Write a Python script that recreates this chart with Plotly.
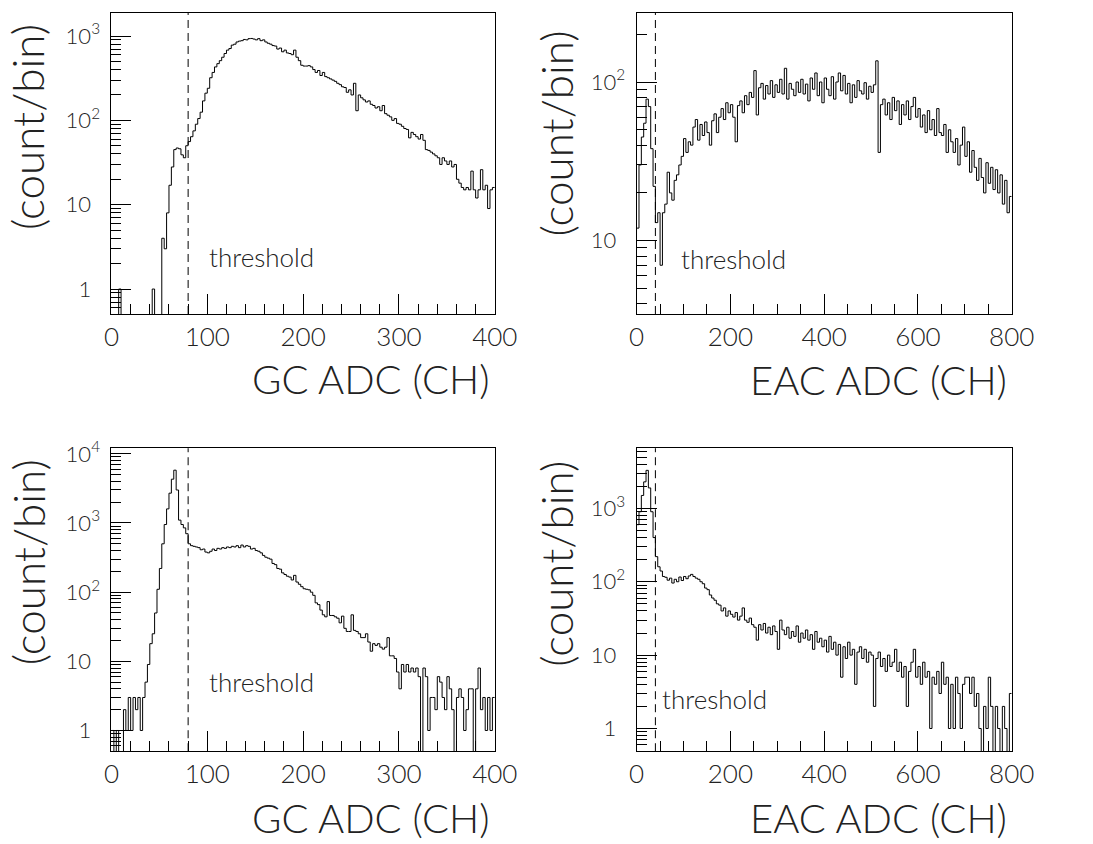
import numpy as np
import plotly.graph_objects as go

# ---------------- data (counts per bin) ----------------
GC_BIN = 2.5      # ADC channels per bin, GC panels (0..400)
EAC_BIN = 5.0     # ADC channels per bin, EAC panels (0..800)
GC_THRESHOLD = 80
EAC_THRESHOLD = 40

gc_top = [
    0, 0, 0, 1, 0, 0, 0, 0, 0, 0,
    0, 0, 0, 0, 0, 0, 0, 1, 0, 0,
    0, 4, 3, 8, 17, 28, 45, 47, 46, 39,
    36, 50, 56, 64, 75, 90, 105, 125, 170, 210,
    240, 320, 370, 430, 470, 510, 560, 620, 680, 710,
    780, 800, 850, 870, 880, 910, 900, 930, 935, 920,
    900, 930, 880, 900, 850, 820, 800, 770, 760, 700,
    720, 650, 680, 630, 620, 600, 680, 560, 510, 450,
    440, 440, 445, 430, 400, 370, 390, 340, 370, 330,
    320, 310, 300, 290, 275, 265, 250, 245, 215, 230,
    200, 275, 130, 200, 185, 175, 165, 170, 155, 150,
    140, 145, 130, 150, 120, 115, 110, 100, 105, 92,
    90, 85, 80, 78, 62, 72, 68, 64, 60, 68,
    58, 45, 44, 42, 40, 38, 36, 30, 36, 33,
    30, 33, 28, 30, 20, 18, 16, 15, 16, 15,
    25, 15, 12, 15, 26, 15, 17, 9, 15, 16,
]

eac_top = [
    12, 30, 45, 55, 78, 70, 38, 22, 13, 15,
    7, 15, 17, 27, 20, 18, 24, 26, 30, 34,
    44, 36, 42, 40, 52, 58, 43, 54, 46, 56,
    48, 40, 57, 63, 48, 60, 68, 58, 74, 64,
    72, 60, 42, 71, 76, 64, 82, 72, 86, 80,
    118, 62, 92, 98, 78, 95, 84, 102, 80, 96,
    86, 104, 84, 122, 78, 98, 90, 82, 100, 86,
    104, 84, 97, 76, 106, 90, 114, 82, 100, 74,
    106, 90, 82, 108, 78, 100, 114, 88, 110, 84,
    98, 74, 96, 80, 102, 88, 84, 99, 78, 94,
    86, 96, 136, 36, 72, 78, 62, 74, 58, 80,
    66, 76, 54, 72, 62, 76, 58, 70, 80, 60,
    68, 52, 62, 48, 66, 50, 58, 46, 68, 48,
    46, 54, 36, 50, 42, 36, 44, 30, 40, 52,
    34, 42, 27, 37, 29, 24, 33, 25, 20, 31,
    23, 29, 21, 28, 20, 26, 17, 24, 15, 19,
]

gc_bottom = [
    1, 0, 1, 0, 0, 2, 1, 3, 1, 3,
    2, 3, 1, 3, 5, 9, 18, 25, 50, 110,
    220, 500, 950, 1600, 2700, 4300, 5800, 3000, 1100, 950,
    850, 700, 500, 470, 460, 450, 440, 410, 420, 380,
    370, 390, 420, 400, 430, 420, 440, 430, 450, 440,
    460, 450, 470, 440, 480, 450, 470, 460, 420, 430,
    400, 390, 370, 340, 320, 310, 300, 260, 250, 220,
    215, 190, 180, 170, 165, 150, 175, 140, 130, 120,
    112, 110, 108, 100, 90, 70, 66, 55, 47, 44,
    73, 46, 46, 44, 42, 36, 45, 30, 27, 27,
    47, 28, 27, 25, 22, 22, 25, 19, 14, 18,
    17, 18, 16, 15, 16, 22, 12, 12, 11, 7,
    4, 9, 7, 9, 7, 8, 7, 8, 6, 0,
    8, 6, 1, 3, 3, 2, 6, 5, 3, 2,
    6, 4, 2, 0, 3, 4, 3, 1, 2, 4,
    4, 0, 4, 8, 2, 3, 1, 3, 1, 3,
]

eac_bottom = [
    600, 900, 1500, 2300, 3300, 1900, 900, 400, 220, 160,
    140, 118, 115, 105, 112, 96, 108, 100, 116, 104,
    118, 110, 120, 126, 118, 112, 108, 100, 94, 82,
    78, 66, 60, 56, 50, 48, 40, 44, 34, 40,
    36, 33, 38, 30, 34, 44, 30, 28, 32, 26,
    24, 16, 26, 22, 27, 20, 24, 19, 25, 21,
    12, 30, 22, 19, 24, 17, 21, 18, 25, 15,
    20, 17, 22, 16, 19, 12, 21, 15, 17, 13,
    16, 11, 18, 12, 15, 10, 14, 5, 13, 9,
    15, 10, 12, 4, 11, 13, 9, 12, 8, 11,
    10, 2, 9, 11, 7, 9, 6, 10, 7, 8,
    12, 6, 8, 5, 7, 2, 6, 8, 12, 5,
    7, 4, 8, 5, 6, 1, 5, 4, 6, 3,
    8, 4, 5, 1, 4, 1, 5, 3, 1, 4,
    5, 5, 3, 5, 2, 3, 1, 0, 2, 1,
    5, 2, 0, 2, 1, 0, 2, 1, 0, 3,
]

x_title_gc = "GC ADC (CH)"
x_title_eac = "EAC ADC (CH)"
y_title = "(count/bin)"
threshold_text = "threshold"
y_tick_text = {1: "1<sup>\u2007</sup>", 10: "10<sup>\u2007</sup>", 100: "10<sup>2</sup>",
               1000: "10<sup>3</sup>", 10000: "10<sup>4</sup>"}

# ---------------- layout helpers ----------------
W, H = 1093, 844
FONT = "Lato, Roboto, 'DejaVu Sans', sans-serif"
TXT = "#222222"
WEIGHT = 300


def px_x(p):
    return p / W


def px_y(p):
    return 1 - p / H


def step_xy(counts, width):
    edges = width * np.arange(len(counts) + 1)
    y = np.asarray(counts, dtype=float)
    y = np.where(y > 0, y, 1e-3)          # empty bins drop below the frame
    return edges, np.append(y, y[-1])


def minor_log(lo, hi):
    vals = [m * 10.0 ** e for e in range(-1, 5) for m in range(2, 10)]
    vals += [m / 10 for m in range(5, 10)]
    return sorted(v for v in vals if lo <= np.log10(v) <= hi)


panels = [
    dict(counts=gc_top, width=GC_BIN, xr=400, xmaj=100, xmin=20, thr=GC_THRESHOLD,
         xdom=(106.5, 501), ydom=(2, 307), yr=(-0.296, 3.273), xt=x_title_gc,
         xt_pos=(498, 373), yt_pos=(20, 117), thr_pos=(205, 249)),
    dict(counts=eac_top, width=EAC_BIN, xr=800, xmaj=200, xmin=50, thr=EAC_THRESHOLD,
         xdom=(647, 1033), ydom=(2, 307), yr=(0.538, 2.435), xt=x_title_eac,
         xt_pos=(1030, 374), yt_pos=(564, 124), thr_pos=(691, 251)),
    dict(counts=gc_bottom, width=GC_BIN, xr=400, xmaj=100, xmin=20, thr=GC_THRESHOLD,
         xdom=(106.5, 501), ydom=(443, 750), yr=(-0.30, 4.081), xt=x_title_gc,
         xt_pos=(498, 818), yt_pos=(20, 558), thr_pos=(205, 680)),
    dict(counts=eac_bottom, width=EAC_BIN, xr=800, xmaj=200, xmin=50, thr=EAC_THRESHOLD,
         xdom=(647, 1033), ydom=(443, 750), yr=(-0.31, 3.82), xt=x_title_eac,
         xt_pos=(1030, 818), yt_pos=(564, 560), thr_pos=(671, 697)),
]

fig = go.Figure()
annotations = []
shapes = []
layout = {}

for i, p in enumerate(panels, start=1):
    sfx = "" if i == 1 else str(i)
    xs, ys = step_xy(p["counts"], p["width"])
    fig.add_trace(go.Scatter(x=xs, y=ys, mode="lines", xaxis="x" + sfx, yaxis="y" + sfx,
                             line=dict(shape="hv", color="black", width=1),
                             hoverinfo="skip", showlegend=False))

    lo, hi = p["yr"]
    majors = [v for v in (1, 10, 100, 1000, 10000) if lo <= np.log10(v) <= hi]
    layout["xaxis" + sfx] = dict(
        domain=[px_x(p["xdom"][0]), px_x(p["xdom"][1])], anchor="y" + sfx,
        range=[0, p["xr"]], tickmode="linear", tick0=0, dtick=p["xmaj"],
        ticks="inside", ticklen=20, tickwidth=1, tickcolor="black",
        minor=dict(dtick=p["xmin"], tick0=0, ticks="inside", ticklen=10,
                   tickwidth=1, tickcolor="black", showgrid=False),
        showline=True, linecolor="black", linewidth=1, mirror=True,
        showgrid=False, zeroline=False, ticklabelstandoff=0,
        tickfont=dict(family=FONT, size=26, color=TXT, weight=WEIGHT),
    )
    layout["yaxis" + sfx] = dict(
        domain=[px_y(p["ydom"][1]), px_y(p["ydom"][0])], anchor="x" + sfx,
        type="log", range=[lo, hi],
        tickmode="array", tickvals=majors, ticktext=[y_tick_text[v] for v in majors],
        ticks="inside", ticklen=20, tickwidth=1, tickcolor="black",
        minor=dict(tickmode="array", tickvals=minor_log(lo, hi), ticks="inside",
                   ticklen=10, tickwidth=1, tickcolor="black", showgrid=False),
        showline=True, linecolor="black", linewidth=1, mirror=True,
        showgrid=False, zeroline=False, ticklabelstandoff=6,
        tickfont=dict(family=FONT, size=22, color=TXT, weight=WEIGHT),
    )

    shapes.append(dict(type="line", xref="x" + sfx, yref="y" + sfx + " domain",
                       x0=p["thr"], x1=p["thr"], y0=0, y1=1,
                       line=dict(color="black", width=1, dash="8px,5px")))

    annotations.append(dict(text=p["xt"], xref="paper", yref="paper",
                            x=px_x(p["xt_pos"][0]), y=px_y(p["xt_pos"][1]),
                            xanchor="right", yanchor="middle", showarrow=False,
                            font=dict(family=FONT, size=40, color=TXT, weight=WEIGHT)))
    annotations.append(dict(text=y_title, xref="paper", yref="paper", textangle=-90,
                            x=px_x(p["yt_pos"][0]), y=px_y(p["yt_pos"][1]),
                            xanchor="center", yanchor="middle", showarrow=False,
                            font=dict(family=FONT, size=44, color=TXT, weight=WEIGHT)))
    annotations.append(dict(text=threshold_text, xref="paper", yref="paper",
                            x=px_x(p["thr_pos"][0]), y=px_y(p["thr_pos"][1]),
                            xanchor="left", yanchor="middle", showarrow=False,
                            font=dict(family=FONT, size=26, color=TXT, weight=WEIGHT)))

fig.update_layout(
    width=W, height=H, margin=dict(l=0, r=0, t=0, b=0),
    paper_bgcolor="white", plot_bgcolor="white", showlegend=False,
    annotations=annotations, shapes=shapes, **layout,
)

fig.write_html("out.html")
